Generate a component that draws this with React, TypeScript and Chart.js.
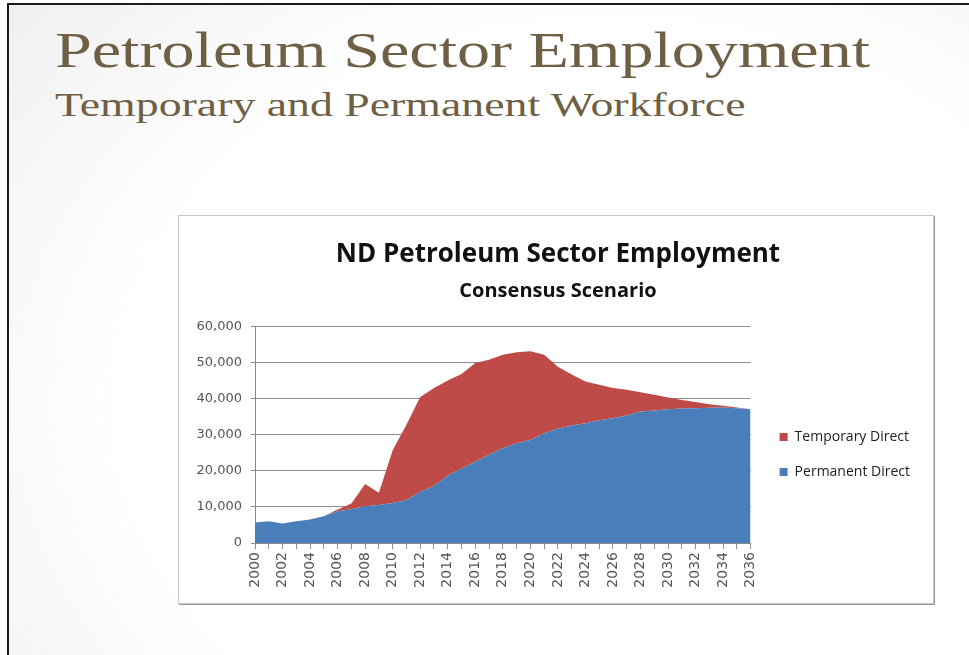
import React, { useEffect, useRef } from "react";
import Chart from "chart.js/auto";

const years: string[] = [
  "2000", "2001", "2002", "2003", "2004", "2005", "2006", "2007", "2008", "2009",
  "2010", "2011", "2012", "2013", "2014", "2015", "2016", "2017", "2018", "2019",
  "2020", "2021", "2022", "2023", "2024", "2025", "2026", "2027", "2028", "2029",
  "2030", "2031", "2032", "2033", "2034", "2035", "2036",
];

const permanentDirect: number[] = [
  5650, 6000, 5400, 6000, 6500, 7400, 8800, 9350, 10200, 10500,
  11100, 11900, 14200, 15800, 18600, 20600, 22500, 24400, 26200, 27600,
  28500, 30400, 31600, 32500, 33150, 34000, 34500, 35300, 36400, 36700,
  37000, 37200, 37300, 37400, 37500, 37300, 37000,
];

const temporaryDirect: number[] = [
  0, 0, 0, 0, 0, 0, 500, 1550, 6100, 3400,
  14600, 20800, 26200, 27100, 26400, 26200, 27300, 26300, 25900, 25200,
  24600, 21700, 17200, 14100, 11550, 9800, 8400, 7100, 5300, 4300,
  3300, 2400, 1700, 1000, 500, 200, 0,
];

const yMax = 60000;
const yStep = 10000;

const slideTitle = "Petroleum Sector Employment";
const slideSubtitle = "Temporary and Permanent Workforce";
const chartTitle = "ND Petroleum Sector Employment";
const chartSubtitle = "Consensus Scenario";
const seriesNames = ["Permanent Direct", "Temporary Direct"];

const BLUE = "#4A7EBB";
const RED = "#BE4B48";
const AXIS_GRAY = "#8a8a8a";
const TICK_TEXT = "#555555";
const SANS = "'Open Sans', Lato, sans-serif";

function EmploymentChart() {
  const canvasRef = useRef<HTMLCanvasElement | null>(null);

  useEffect(() => {
    if (!canvasRef.current) return;
    const chart = new Chart(canvasRef.current, {
      type: "line",
      data: {
        labels: years,
        datasets: [
          {
            label: seriesNames[0],
            data: permanentDirect,
            backgroundColor: BLUE,
            borderColor: BLUE,
            borderWidth: 0,
            pointRadius: 0,
            fill: "origin",
            tension: 0,
          },
          {
            label: seriesNames[1],
            data: temporaryDirect,
            backgroundColor: RED,
            borderColor: RED,
            borderWidth: 0,
            pointRadius: 0,
            fill: "-1",
            tension: 0,
          },
        ],
      },
      options: {
        animation: false,
        responsive: false,
        maintainAspectRatio: false,
        devicePixelRatio: 1,
        layout: { padding: { left: 17, right: 13, top: 0, bottom: 0 } },
        plugins: {
          tooltip: { enabled: false },
          title: {
            display: true,
            text: chartTitle,
            color: "#111111",
            font: { family: SANS, size: 26, weight: "bold" },
            padding: { top: 23, bottom: 9 },
          },
          subtitle: {
            display: true,
            text: chartSubtitle,
            color: "#111111",
            font: { family: SANS, size: 20, weight: "bold" },
            padding: { top: 0, bottom: 23 },
          },
          legend: {
            display: true,
            position: "right",
            align: "center",
            fullSize: false,
            reverse: true,
            maxWidth: 220,
            title: {
              display: true,
              text: "",
              font: { size: 10, lineHeight: 1 },
              padding: { top: 30, bottom: 0 },
            },
            labels: {
              boxWidth: 8,
              boxHeight: 8,
              padding: 21,
              color: "#222222",
              font: { family: SANS, size: 14 },
            },
          },
        },
        scales: {
          x: {
            type: "category",
            offset: false,
            afterFit: (scale: any) => {
              scale.height = 60;
            },
            grid: {
              display: true,
              drawOnChartArea: false,
              drawTicks: true,
              tickLength: 6,
              color: AXIS_GRAY,
            },
            border: { display: true, color: AXIS_GRAY },
            ticks: {
              autoSkip: false,
              maxRotation: 90,
              minRotation: 90,
              padding: 3,
              color: TICK_TEXT,
              font: { family: "'DejaVu Sans', sans-serif", size: 14 },
              callback: (_v: any, i: number) => (i % 2 === 0 ? years[i] : ""),
            },
          },
          y: {
            stacked: true,
            min: 0,
            max: yMax,
            afterFit: (scale: any) => {
              scale.width = 59;
            },
            grid: {
              display: true,
              drawOnChartArea: true,
              tickLength: 4,
              color: AXIS_GRAY,
            },
            border: { display: true, color: AXIS_GRAY },
            ticks: {
              stepSize: yStep,
              padding: 9,
              color: TICK_TEXT,
              font: { family: "'DejaVu Sans', sans-serif", size: 13 },
              callback: (v: any) => Number(v).toLocaleString("en-US"),
            },
          },
          gap: {
            type: "linear",
            position: "right",
            display: true,
            afterFit: (scale: any) => {
              scale.width = 8;
            },
            grid: { display: false, drawOnChartArea: false },
            border: { display: false },
            ticks: { display: false },
          },
        },
      },
    } as any);
    return () => chart.destroy();
  }, []);

  return (
    <canvas
      ref={canvasRef}
      width={754}
      height={387}
      style={{ display: "block", width: 754, height: 387 }}
    />
  );
}

export default function App() {
  return (
    <div
      style={{
        position: "absolute",
        left: 0,
        top: 0,
        width: 969,
        height: 655,
        overflow: "hidden",
        background: "#ffffff",
      }}
    >
      <div
        style={{
          position: "absolute",
          left: 7,
          top: 3,
          width: 1100,
          height: 800,
          borderLeft: "2px solid #1c1c1c",
          borderTop: "2px solid #1c1c1c",
          background:
            "radial-gradient(ellipse 75% 80% at 55% 50%, #ffffff 60%, #eeeeee 100%)",
        }}
      />
      <div
        style={{
          position: "absolute",
          left: 55,
          top: 25,
          fontFamily: "'Liberation Serif', serif",
          fontSize: 50,
          lineHeight: "50px",
          color: "#6E5F45",
          whiteSpace: "nowrap",
          transform: "scaleX(1.322)",
          transformOrigin: "left top",
        }}
      >
        {slideTitle}
      </div>
      <div
        style={{
          position: "absolute",
          left: 55,
          top: 89,
          fontFamily: "'Liberation Serif', serif",
          fontSize: 33,
          lineHeight: "33px",
          color: "#6E5F45",
          whiteSpace: "nowrap",
          transform: "scaleX(1.388)",
          transformOrigin: "left top",
        }}
      >
        {slideSubtitle}
      </div>
      <div
        style={{
          position: "absolute",
          left: 178,
          top: 215,
          width: 754,
          height: 387,
          border: "1px solid #c4c4c4",
          boxShadow: "1px 1px 0 #9a9a9a",
          background: "#ffffff",
        }}
      >
        <EmploymentChart />
      </div>
    </div>
  );
}
